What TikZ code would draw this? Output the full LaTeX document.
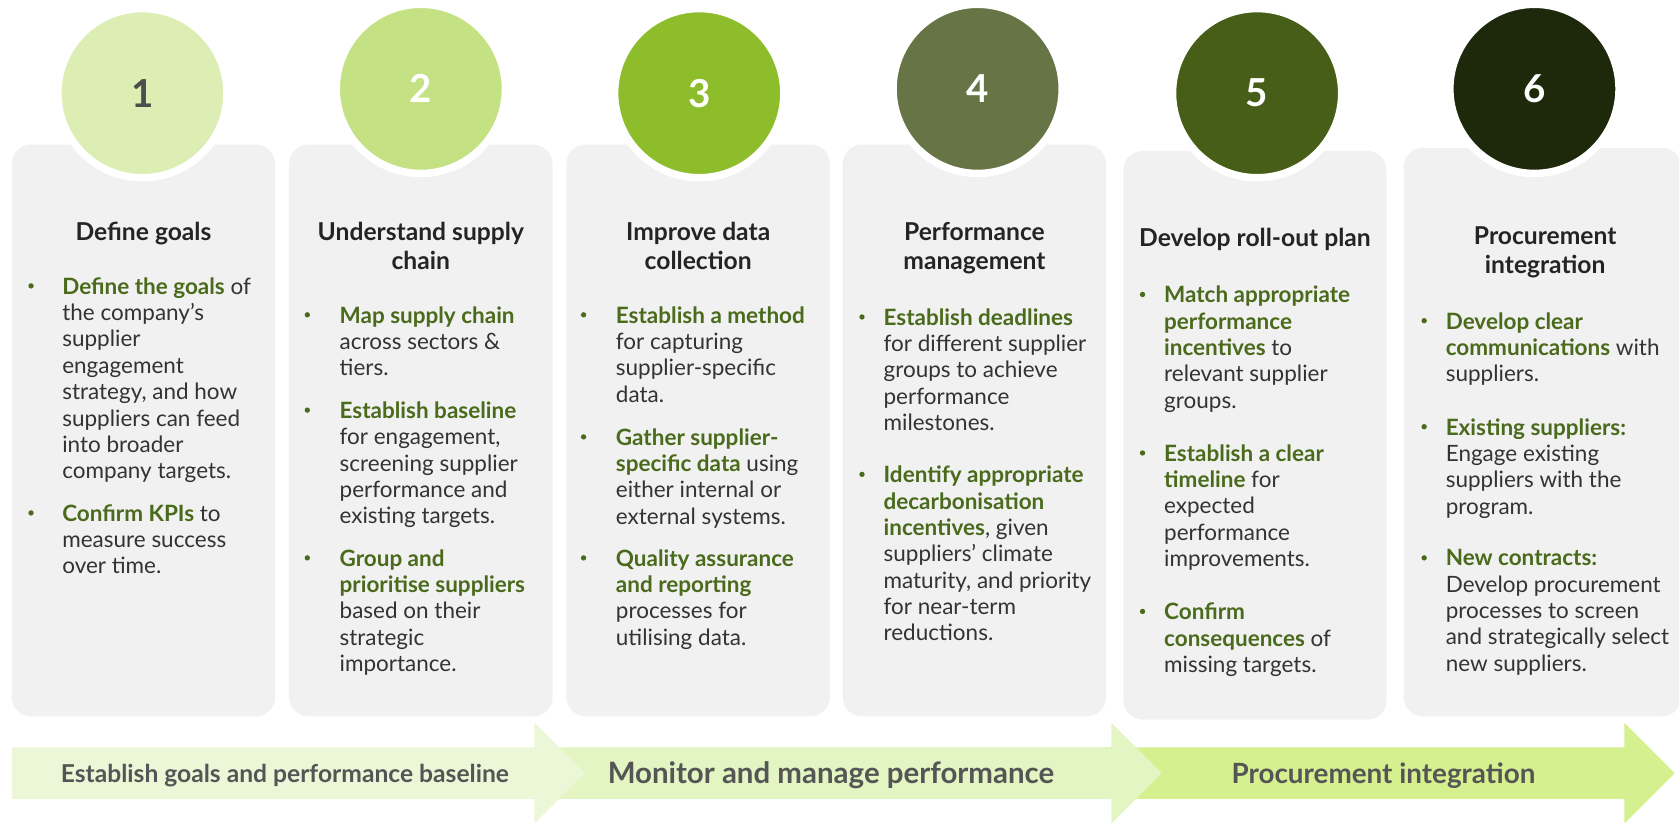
\documentclass[tikz,border=0pt]{standalone}
\usepackage{fontspec}
\setmainfont{Lato}
\usepackage{xcolor}
\usetikzlibrary{positioning}

\definecolor{cardgray}{HTML}{F1F1F1}
\definecolor{leaf}{HTML}{4A6A1C}
\definecolor{ink}{HTML}{333333}
\definecolor{titleink}{HTML}{242424}
\definecolor{numgray}{HTML}{4D4D4D}
\definecolor{labelgray}{HTML}{555555}
\definecolor{stepA}{HTML}{DCEEB4}
\definecolor{stepB}{HTML}{C4E283}
\definecolor{stepC}{HTML}{8DBD2B}
\definecolor{stepD}{HTML}{667446}
\definecolor{stepE}{HTML}{465E17}
\definecolor{stepF}{HTML}{1E280B}
\definecolor{bandA}{HTML}{EBF7D7}
\definecolor{bandB}{HTML}{E2F5C3}
\definecolor{bandC}{HTML}{D5F18F}

\newcommand{\hl}[1]{\textcolor{leaf}{\bfseries #1}}

\tikzset{
  card/.style={fill=cardgray, rounded corners=18, inner sep=0},
  stepdisc/.style={circle, draw=white, line width=7, minimum size=158, inner sep=0,
    text=white, font=\bfseries\fontsize{36}{36}\selectfont},
  cardtitle/.style={anchor=north, align=center, inner sep=0, text=titleink,
    font=\bfseries\fontsize{23}{27}\selectfont},
  body/.style={anchor=north west, align=left, inner sep=0, text=ink,
    font=\fontsize{21}{24.6}\selectfont},
  dot/.style={circle, fill=leaf, inner sep=0, minimum size=5},
  phase/.style={anchor=base, inner sep=0, text=labelgray, font=\bfseries}
}

\begin{document}
\begin{tikzpicture}[x=1pt, y=-1pt]
    \useasboundingbox (0,0) rectangle (1568,768);
    \clip (0,0) rectangle (1568,768);

    % cards
    \node[card, minimum width=246, minimum height=534] (c1) at (134,402) {};
    \node[card, minimum width=246, minimum height=534] (c2) at (393,402) {};
    \node[card, minimum width=246, minimum height=534] (c3) at (652,402) {};
    \node[card, minimum width=246, minimum height=534] (c4) at (910,402) {};
    \node[card, minimum width=246, minimum height=531] (c5) at (1172,406.5) {};
    \node[card, minimum width=259, minimum height=531] (c6) at (1440.5,403.5) {};

    % step discs
    \node[stepdisc, fill=stepA, text=numgray] (s1) at (133,87) {1};
    \node[stepdisc, fill=stepB] (s2) at (393,83) {2};
    \node[stepdisc, fill=stepC] (s3) at (653,87) {3};
    \node[stepdisc, fill=stepD] (s4) at (913,83) {4};
    \node[stepdisc, fill=stepE] (s5) at (1174,87) {5};
    \node[stepdisc, fill=stepF] (s6) at (1433,83) {6};

    % titles
    \node[cardtitle] (t1) at (134,207.3) {Define goals};
    \node[cardtitle] (t2) at (393,207.3) {Understand supply\\chain};
    \node[cardtitle] (t3) at (652,207.3) {Improve data\\collection};
    \node[cardtitle] (t4) at (910,207.3) {Performance\\management};
    \node[cardtitle] (t5) at (1172,213.3) {Develop roll-out plan};
    \node[cardtitle] (t6) at (1443,211.3) {Procurement\\integration};

    % bullet points
    \node[body] (i11) at (58,259) {\hl{Define the goals} of\\the company’s\\supplier\\engagement\\strategy, and how\\suppliers can feed\\into broader\\company targets.};
    \node[body] (i12) at (58,471) {\hl{Confirm KPIs} to\\measure success\\over time.};

    \node[body] (i21) at (317,286) {\hl{Map supply chain}\\across sectors \&\\tiers.};
    \node[body] (i22) at (317,375) {\hl{Establish baseline}\\for engagement,\\screening supplier\\performance and\\existing targets.};
    \node[body] (i23) at (317,513) {\hl{Group and}\\\hl{prioritise suppliers}\\based on their\\strategic\\importance.};

    \node[body] (i31) at (575,286) {\hl{Establish a method}\\for capturing\\supplier-specific\\data.};
    \node[body] (i32) at (575,400) {\hl{Gather supplier-}\\\hl{specific data} using\\either internal or\\external systems.};
    \node[body] (i33) at (575,513) {\hl{Quality assurance}\\\hl{and reporting}\\processes for\\utilising data.};

    \node[body] (i41) at (825,288) {\hl{Establish deadlines}\\for different supplier\\groups to achieve\\performance\\milestones.};
    \node[body] (i42) at (825,435) {\hl{Identify appropriate}\\\hl{decarbonisation}\\\hl{incentives}, given\\suppliers’ climate\\maturity, and priority\\for near-term\\reductions.};

    \node[body] (i51) at (1087,267) {\hl{Match appropriate}\\\hl{performance}\\\hl{incentives} to\\relevant supplier\\groups.};
    \node[body] (i52) at (1087,415) {\hl{Establish a clear}\\\hl{timeline} for\\expected\\performance\\improvements.};
    \node[body] (i53) at (1087,563) {\hl{Confirm}\\\hl{consequences} of\\missing targets.};

    \node[body] (i61) at (1350,291.5) {\hl{Develop clear}\\\hl{communications} with\\suppliers.};
    \node[body] (i62) at (1350,390.5) {\hl{Existing suppliers:}\\Engage existing\\suppliers with the\\program.};
    \node[body] (i63) at (1350,513) {\hl{New contracts:}\\Develop procurement\\processes to screen\\and strategically select\\new suppliers.};

    \foreach \nm/\dx in {i11/29, i12/29, i21/30, i22/30, i23/30, i31/30, i32/30, i33/30,
        i41/20, i42/20, i51/20, i52/20, i53/20, i61/20, i62/20, i63/20}
        \node[dot] (d-\nm) at ([xshift=-\dx pt, yshift=-8pt]\nm.north west) {};

    % phase arrows, last one first so each head lies over the next
    \fill[bandC] (1030,698) -- (1517,698) -- (1517,675) -- (1564,722) -- (1517,769) -- (1517,746) -- (1030,746) -- cycle;
    \fill[bandB] (510,698) -- (1038,698) -- (1038,675) -- (1085,722) -- (1038,769) -- (1038,746) -- (510,746) -- cycle;
    \fill[bandA] (11,698) -- (499,698) -- (499,675) -- (546,722) -- (499,769) -- (499,746) -- (11,746) -- cycle;

    \node[phase, font=\bfseries\fontsize{23}{23}\selectfont] (p1) at (266,731) {Establish goals and performance baseline};
    \node[phase, font=\bfseries\fontsize{27.5}{27.5}\selectfont] (p2) at (776,732) {Monitor and manage performance};
    \node[phase, font=\bfseries\fontsize{26}{26}\selectfont] (p3) at (1292,732) {Procurement integration};
\end{tikzpicture}
\end{document}
